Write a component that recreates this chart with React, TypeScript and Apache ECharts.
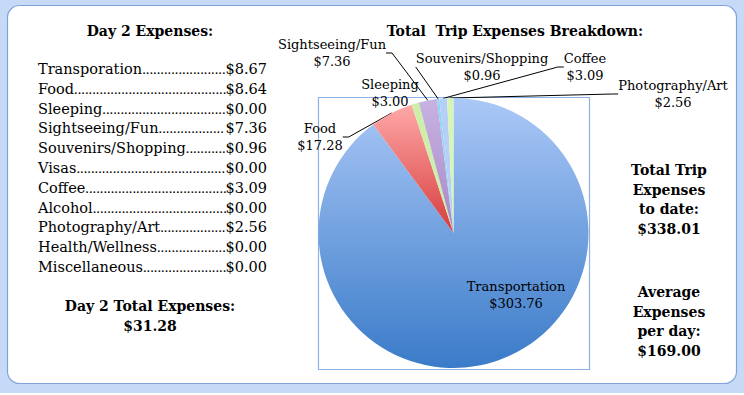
import React, { useEffect, useRef } from "react";
import * as echarts from "echarts";

// ---- Data ----
const dayCategories = [
  "Transporation",
  "Food",
  "Sleeping",
  "Sightseeing/Fun",
  "Souvenirs/Shopping",
  "Visas",
  "Coffee",
  "Alcohol",
  "Photography/Art",
  "Health/Wellness",
  "Miscellaneous",
];
const dayValues = [8.67, 8.64, 0.0, 7.36, 0.96, 0.0, 3.09, 0.0, 2.56, 0.0, 0.0];
const dayTotal = 31.28;

const tripCategories = [
  "Transportation",
  "Food",
  "Sleeping",
  "Sightseeing/Fun",
  "Souvenirs/Shopping",
  "Coffee",
  "Photography/Art",
];
const tripValues = [303.76, 17.28, 3.0, 7.36, 0.96, 3.09, 2.56];
const tripTotal = 338.01;
const avgPerDay = 169.0;

// ---- Styling / layout (not data) ----
const SERIF = "'DejaVu Serif', 'Liberation Serif', serif";
const DOTFONT = "'Liberation Serif', serif";
const sliceColors: any[] = [
  { type: "linear", x: 0, y: 0, x2: 0, y2: 1, colorStops: [{ offset: 0, color: "#abc8f7" }, { offset: 1, color: "#3a7bc8" }] },
  { type: "linear", x: 0, y: 0, x2: 0, y2: 1, colorStops: [{ offset: 0, color: "#ffa8a8" }, { offset: 1, color: "#d63c3c" }] },
  "#cdefaa",
  { type: "linear", x: 0, y: 0, x2: 0, y2: 1, colorStops: [{ offset: 0, color: "#c8b2e2" }, { offset: 1, color: "#a688c6" }] },
  "#8ed6f3",
  "#b6cff6",
  "#d6f5b6",
];
const labelPos: [number, number][] = [
  [516, 295],
  [320, 137],
  [390, 93],
  [332, 53],
  [482, 67],
  [585, 67],
  [673, 94],
];

export default function App() {
  const ref = useRef<HTMLDivElement>(null);
  useEffect(() => {
    document.body.style.margin = "0";
    const chart = echarts.init(ref.current!, null, { renderer: "svg" });

    const canvas = document.createElement("canvas");
    const ctx = canvas.getContext("2d")!;
    const measure = (t: string, font: string) => {
      ctx.font = font;
      return ctx.measureText(t).width;
    };

    const listX = 38;
    const listRight = 267;
    const rowY0 = 69;
    const rowStep = 19.8;
    const listFontSize = 14.5;
    const listFont = `${listFontSize}px 'DejaVu Serif'`;
    const dotFont = `${listFontSize}px 'Liberation Serif'`;
    const dotW = measure(".", dotFont) || 3.6;

    const listTexts: any[] = [];
    dayCategories.forEach((c, i) => {
      const y = rowY0 + i * rowStep;
      const valStr = "$" + dayValues[i].toFixed(2);
      const nameW = measure(c, listFont);
      const valW = measure(valStr, listFont);
      const gap = listRight - valW - (listX + nameW);
      const n = Math.max(0, Math.round(gap / dotW));
      const common = {
        fontSize: listFontSize,
        fill: "#000",
        verticalAlign: "middle",
        textVerticalAlign: "middle",
      };
      listTexts.push({
        type: "text",
        z: 10,
        style: { ...common, text: c, x: listX, y, fontFamily: SERIF, align: "left", textAlign: "left" },
      });
      listTexts.push({
        type: "text",
        z: 10,
        style: {
          ...common,
          text: ".".repeat(n),
          x: listX + nameW,
          y,
          fontFamily: DOTFONT,
          align: "left",
          textAlign: "left",
        },
      });
      listTexts.push({
        type: "text",
        z: 11,
        style: { ...common, text: valStr, x: listRight, y, fontFamily: SERIF, align: "right", textAlign: "right" },
      });
    });

    const boldText = (text: string, x: number, y: number, size = 14) => ({
      type: "text",
      z: 10,
      style: {
        text,
        x,
        y,
        fontFamily: SERIF,
        fontWeight: "bold",
        fontSize: size,
        lineHeight: 19.5,
        fill: "#000",
        align: "center",
        textAlign: "center",
        verticalAlign: "middle",
        textVerticalAlign: "middle",
      },
    });

    chart.setOption({
      animation: false,
      graphic: [
        { type: "rect", z: 0, shape: { x: 0, y: 0, width: 744, height: 393 }, style: { fill: "#c6daf7" } },
        {
          type: "rect",
          z: 1,
          shape: { x: 7.5, y: 5.5, width: 729, height: 378, r: 12 },
          style: { fill: "#ffffff", stroke: "#7fa4dc", lineWidth: 1.2 },
        },
        {
          type: "rect",
          z: 2,
          shape: { x: 318.5, y: 97.5, width: 271, height: 272 },
          style: { fill: "none", stroke: "#8db3e6", lineWidth: 1.2 },
        },
        boldText("Day 2 Expenses:", 150, 31),
        boldText("Total  Trip Expenses Breakdown:", 515, 31),
        boldText("Day 2 Total Expenses:\n$" + dayTotal.toFixed(2), 150, 316),
        boldText("Total Trip\nExpenses\nto date:\n$" + tripTotal.toFixed(2), 669, 199.5),
        boldText("Average\nExpenses\nper day:\n$" + avgPerDay.toFixed(2), 669, 321.5),
        ...listTexts,
      ],
      series: [
        {
          type: "pie",
          z: 5,
          center: [453.5, 233],
          radius: 135,
          startAngle: 90,
          clockwise: true,
          avoidLabelOverlap: false,
          data: tripCategories.map((name, i) => ({
            name,
            value: tripValues[i],
            itemStyle: { color: sliceColors[i] },
            label: { position: i === 0 ? "inside" : "outside" },
            labelLine: { show: i !== 0 && i !== 2 },
          })),
          label: {
            show: true,
            formatter: (p: any) => p.name + "\n$" + Number(p.value).toFixed(2),
            fontFamily: SERIF,
            fontSize: 13,
            lineHeight: 17,
            color: "#000",
            align: "center",
          },
          labelLine: {
            show: true,
            length: 10,
            length2: 6,
            lineStyle: { color: "#000", width: 1 },
          },
          labelLayout: (params: any) => {
            const p = labelPos[params.dataIndex];
            return { x: p[0], y: p[1], align: "center", verticalAlign: "middle" };
          },
          emphasis: { disabled: true },
        },
      ],
    });
    return () => chart.dispose();
  }, []);
  return <div ref={ref} style={{ width: 744, height: 395 }} />;
}
